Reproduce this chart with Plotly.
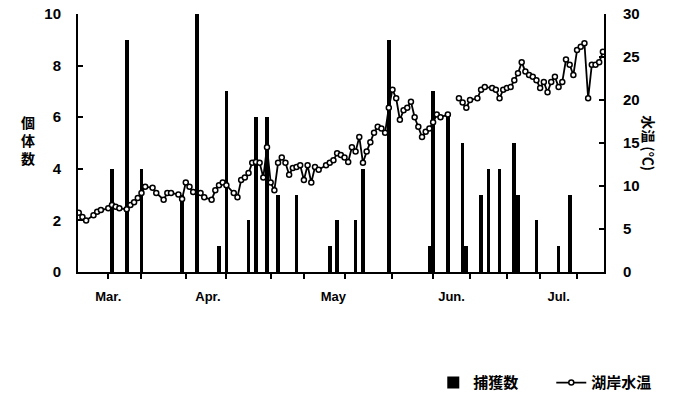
import plotly.graph_objects as go

# x unit: days counted from 1 March
bar_days = [1, 5, 9, 20, 24, 30, 32, 38, 40, 43, 46, 51, 60, 62, 67, 69, 76,
            87, 88, 92, 96, 97, 101, 103, 106, 110, 111, 116, 122, 125]
bar_counts = [4, 9, 4, 3, 10, 1, 7, 2, 6, 6, 3, 3, 1, 2, 2, 4, 9,
              1, 7, 6, 5, 1, 3, 4, 4, 5, 3, 2, 1, 3]

temp_days = [-8, -7, -6, -4, -3, -2, 0, 1, 2, 3, 5, 6, 7, 8, 9, 10, 12, 13, 15, 16,
             17, 19, 20, 21, 22, 23, 25, 26, 28, 29, 30, 31, 32, 34, 35, 36, 37, 38,
             39, 40, 41, 42, 43, 44, 45, 46, 47, 48, 49, 50, 51, 52, 53, 54, 55, 56,
             57, 59, 60, 61, 62, 63, 64, 65, 66, 67, 68, 69, 70, 71, 72, 73, 74, 75,
             76, 77, 78, 79, 80, 81, 82, 83, 84, 85, 86, 87, 88, 89, 90, 92, 93,
             95, 96, 97, 98, 100, 101, 102, 104, 105, 106, 107, 108, 109, 110, 111,
             112, 113, 114, 115, 116, 117, 118, 119, 120, 121, 122, 123, 124, 125,
             126, 127, 128, 129, 130, 131, 132, 133, 134]
temp_vals = [6.9, 6.4, 6.0, 6.6, 7.0, 7.2, 7.4, 7.8, 7.6, 7.4, 7.3, 7.8, 8.1, 8.6, 9.2, 9.9,
             9.8, 9.2, 8.4, 9.2, 9.2, 9.0, 8.5, 10.4, 9.9, 9.3, 9.2, 8.7, 8.4, 9.5, 10.1,
             10.4, 10.1, 9.2, 8.7, 10.7, 11.0, 11.5, 12.7, 12.8, 12.7, 11.0, 14.5, 10.4,
             9.5, 12.7, 13.3, 12.7, 11.3, 12.1, 12.2, 12.4, 10.7, 12.4, 10.4, 12.2, 11.9,
             12.4, 12.7, 13.0, 13.8, 13.6, 13.3, 12.8, 14.5, 14.0, 15.7, 12.7, 14.0, 15.1,
             16.2, 16.9, 16.7, 16.2, 19.1, 21.2, 20.2, 17.7, 18.8, 19.1, 19.8, 18.0, 16.9,
             15.7, 16.3, 16.7, 17.4, 18.3, 18.0, 18.3, None,
             20.2, 19.7, 19.1, 20.0, 20.2, 21.2, 21.5, 21.4, 21.2, 20.2, 21.2, 21.4,
             21.5, 22.3, 23.1, 24.4, 23.3, 22.9, 22.7, 22.3, 21.4, 22.1, 20.9, 22.1,
             22.7, 21.5, 22.1, 24.7, 24.1, 22.9, 25.8, 26.2, 26.6, 20.2, 24.1, 24.1,
             24.4, 25.6]

tick_days = [0, 9, 21, 32, 44, 53, 64, 77, 88, 98, 108, 117, 127]
month_days = [0, 27, 61, 93, 122]
month_labels = ["Mar.", "Apr.", "May", "Jun.", "Jul."]

left_ticks = [0, 2, 4, 6, 8, 10]
right_ticks = [0, 5, 10, 15, 20, 25, 30]

bar_name = "捕獲数"
line_name = "湖岸水温"
left_title = "個体数"
right_title = "水温 (℃)"

FONT = "Liberation Sans, Arial, sans-serif"
CJK = "Noto Sans CJK JP, sans-serif"
XR = [-8.2, 134.3]

fig = go.Figure()
fig.add_trace(go.Bar(
    x=bar_days, y=bar_counts, name=bar_name, width=1.0,
    marker=dict(color="black", line=dict(width=0)),
    xaxis="x", yaxis="y"))
fig.add_trace(go.Scatter(
    x=temp_days, y=temp_vals, name=line_name, mode="lines+markers",
    connectgaps=False,
    line=dict(color="black", width=1.8),
    marker=dict(symbol="circle", size=5, color="white",
                line=dict(color="black", width=1.5)),
    xaxis="x2", yaxis="y2"))

fig.update_layout(
    width=677, height=403,
    margin=dict(l=78, r=73, t=14, b=131, autoexpand=False),
    paper_bgcolor="white", plot_bgcolor="white",
    bargap=0,
    xaxis=dict(range=XR, tickvals=tick_days, showticklabels=False,
               ticks="outside", ticklen=5, tickwidth=2, tickcolor="black",
               showline=True, linewidth=2, linecolor="black",
               showgrid=False, zeroline=False, fixedrange=True),
    xaxis2=dict(range=XR, overlaying="x", anchor="y2", side="bottom",
                tickvals=month_days, ticktext=month_labels, ticks="",
                showline=False, showgrid=False, zeroline=False,
                ticklabelstandoff=15,
                tickfont=dict(family=FONT, size=13, color="black", weight="bold")),
    yaxis=dict(range=[0, 10], tickvals=left_ticks, ticks="inside", ticklen=5,
               tickwidth=2, tickcolor="black", showline=True, linewidth=2,
               linecolor="black", showgrid=False, zeroline=False,
               ticklabelstandoff=12,
               tickfont=dict(family=FONT, size=15, color="black", weight="bold")),
    yaxis2=dict(range=[0, 30], tickvals=right_ticks, overlaying="y", side="right",
                anchor="x", ticks="inside", ticklen=5, tickwidth=2, tickcolor="black",
                showline=True, linewidth=2, linecolor="black", showgrid=False,
                zeroline=False, ticklabelstandoff=14,
                tickfont=dict(family=FONT, size=15, color="black", weight="bold")),
    legend=dict(orientation="h", xref="container", yref="container",
                x=0.64, xanchor="left", y=0.05, yanchor="middle",
                entrywidth=73, entrywidthmode="pixels",
                font=dict(family=CJK, size=15, color="black", weight="bold"),
                bgcolor="rgba(0,0,0,0)", traceorder="normal", itemwidth=30),
    showlegend=True,
    annotations=[
        dict(text="<br>".join(list(left_title)), xref="paper", yref="paper",
             x=-0.112, y=0.51, showarrow=False,
             font=dict(family=CJK, size=14, color="black", weight="bold")),
        dict(text=right_title, xref="paper", yref="paper", x=1.108, y=0.5,
             textangle=90, showarrow=False,
             font=dict(family=CJK, size=14, color="black", weight="bold")),
    ],
)

fig.write_html("out.html", config={"displayModeBar": False},
               post_script="document.body.style.margin='0';")
